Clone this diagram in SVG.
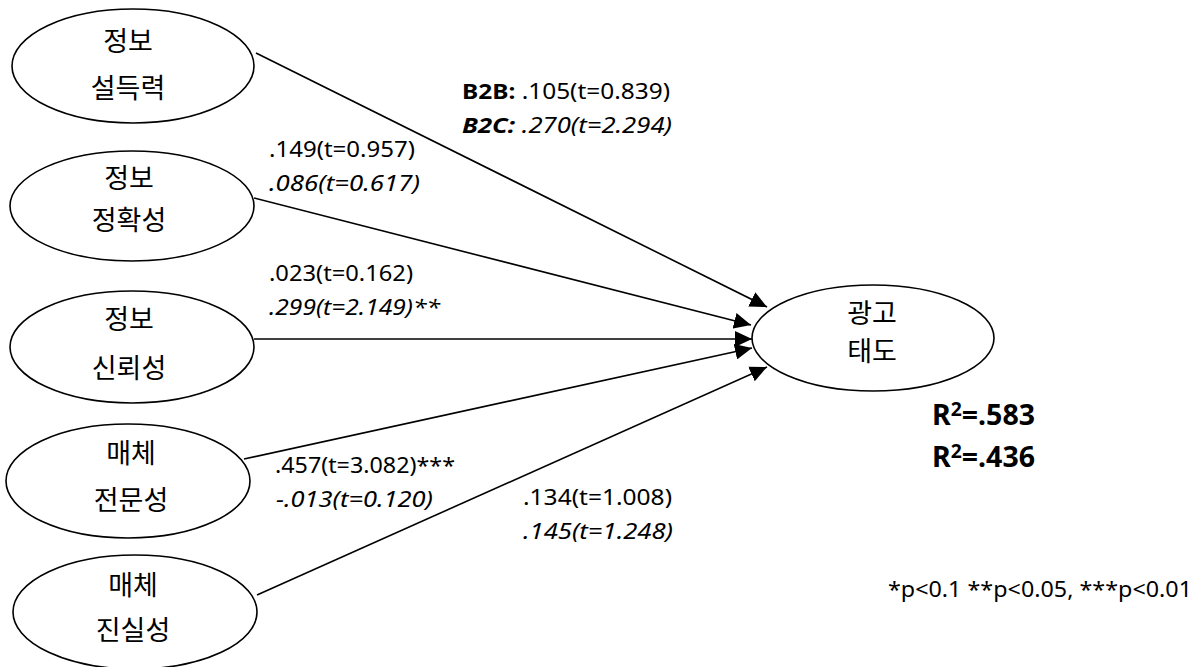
<svg xmlns="http://www.w3.org/2000/svg" width="1203" height="667" viewBox="0 0 1203 667">
<defs>
<marker id="arr" markerUnits="userSpaceOnUse" markerWidth="18" markerHeight="16" refX="17" refY="8" orient="auto">
<path d="M0,0 L17,8 L0,16 z" fill="#000"/>
</marker>
<style>
.node ellipse{fill:#fff;stroke:#000;stroke-width:1.6}
.kr{font-family:"Noto Sans CJK KR","Noto Sans",sans-serif;font-size:27px;text-anchor:middle;fill:#000}
.lab{font-family:"Noto Sans","Open Sans",sans-serif;font-size:22px;fill:#000}
.it{font-style:italic}
.b{font-weight:bold}
.r2{font-family:"Noto Sans","Open Sans",sans-serif;font-size:28px;font-weight:bold;fill:#000}
.sup{font-size:19px}
#connectors line{stroke:#000;stroke-width:1.6;marker-end:url(#arr)}
</style>
</defs>
<rect width="1203" height="667" fill="#fff"/>
<g id="connectors">
<line x1="256" y1="53" x2="767" y2="307"/>
<line x1="254" y1="198" x2="751" y2="325"/>
<line x1="254" y1="339" x2="752" y2="339"/>
<line x1="244" y1="459" x2="752" y2="348"/>
<line x1="257" y1="595" x2="767" y2="367"/>
</g>
<g id="n1" class="node">
<ellipse cx="133" cy="66" rx="121" ry="57"/>
<text class="kr" x="128" y="51">정보</text>
<text class="kr" x="128" y="98">설득력</text>
</g>
<g id="n2" class="node">
<ellipse cx="132" cy="206" rx="122" ry="55"/>
<text class="kr" x="129" y="188">정보</text>
<text class="kr" x="129" y="230">정확성</text>
</g>
<g id="n3" class="node">
<ellipse cx="132" cy="347" rx="122" ry="56"/>
<text class="kr" x="129" y="329">정보</text>
<text class="kr" x="129" y="378">신뢰성</text>
</g>
<g id="n4" class="node">
<ellipse cx="128" cy="481" rx="122" ry="57"/>
<text class="kr" x="131" y="463">매체</text>
<text class="kr" x="131" y="510">전문성</text>
</g>
<g id="n5" class="node">
<ellipse cx="135" cy="612" rx="122" ry="57"/>
<text class="kr" x="133" y="595">매체</text>
<text class="kr" x="133" y="640">진실성</text>
</g>
<g id="target" class="node">
<ellipse cx="873" cy="338" rx="121" ry="53"/>
<text class="kr" x="872" y="323">광고</text>
<text class="kr" x="872" y="361">태도</text>
</g>
<g id="labels">
<text class="lab" x="462" y="99" textLength="208" lengthAdjust="spacingAndGlyphs"><tspan class="b">B2B: </tspan>.105(t=0.839)</text>
<text class="lab it" x="462" y="133" textLength="210" lengthAdjust="spacingAndGlyphs"><tspan class="b">B2C: </tspan>.270(t=2.294)</text>
<text class="lab" x="269" y="157" textLength="146" lengthAdjust="spacingAndGlyphs">.149(t=0.957)</text>
<text class="lab it" x="269" y="191" textLength="151" lengthAdjust="spacingAndGlyphs">.086(t=0.617)</text>
<text class="lab" x="269" y="281" textLength="144" lengthAdjust="spacingAndGlyphs">.023(t=0.162)</text>
<text class="lab it" x="269" y="315" textLength="171" lengthAdjust="spacingAndGlyphs">.299(t=2.149)**</text>
<text class="lab" x="275" y="473" textLength="180" lengthAdjust="spacingAndGlyphs">.457(t=3.082)***</text>
<text class="lab it" x="276" y="507" textLength="157" lengthAdjust="spacingAndGlyphs">-.013(t=0.120)</text>
<text class="lab" x="523" y="505" textLength="149" lengthAdjust="spacingAndGlyphs">.134(t=1.008)</text>
<text class="lab it" x="523" y="539" textLength="150" lengthAdjust="spacingAndGlyphs">.145(t=1.248)</text>
<text class="r2" x="932" y="425" textLength="103" lengthAdjust="spacingAndGlyphs">R<tspan class="sup" dy="-9">2</tspan><tspan dy="9">=.583</tspan></text>
<text class="r2" x="932" y="467" textLength="103" lengthAdjust="spacingAndGlyphs">R<tspan class="sup" dy="-9">2</tspan><tspan dy="9">=.436</tspan></text>
<text class="lab" x="888" y="597" textLength="304" lengthAdjust="spacingAndGlyphs">*p&lt;0.1 **p&lt;0.05, ***p&lt;0.01</text>
</g>
</svg>
